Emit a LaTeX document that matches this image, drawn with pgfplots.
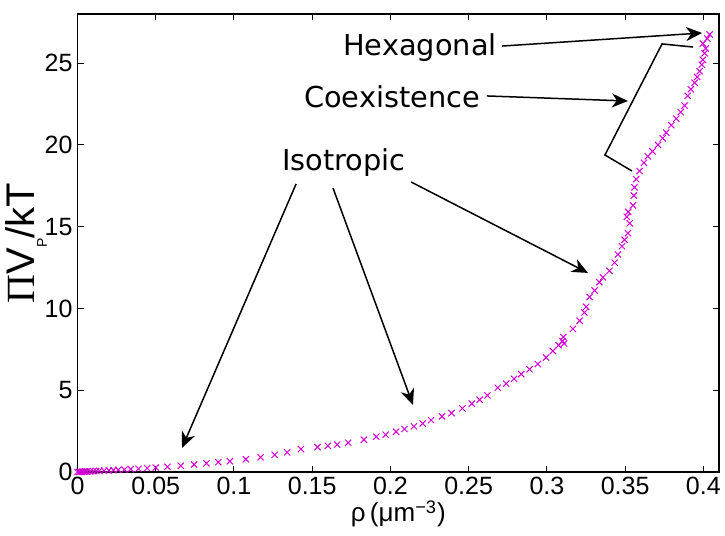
\documentclass[border=0pt]{standalone}
\usepackage{fontspec}
\setmainfont{Liberation Sans}
\newfontfamily\dejavu{DejaVu Sans}
\newfontfamily\serifgr{Liberation Serif}
\usepackage{pgfplots}
\pgfplotsset{compat=1.18}
\usetikzlibrary{arrows.meta,calc}
\definecolor{mag}{RGB}{210,0,210}
\begin{document}
\begin{tikzpicture}
\begin{axis}[
  scale only axis=true,
  width=320.75pt, height=229pt,
  xmin=0, xmax=0.41, ymin=0, ymax=28,
  xtick={0,0.05,0.1,0.15,0.2,0.25,0.3,0.35,0.4},
  xticklabels={0,0.05,0.1,0.15,0.2,0.25,0.3,0.35,0.4},
  ytick={0,5,10,15,20,25},
  tick align=inside, tick pos=both,
  major tick length=3pt,
  tick style={black, line width=0.5pt},
  axis line style={black, line width=0.6pt},
  /pgf/number format/assume math mode=true,
  tick label style={font=\fontsize{12.5}{12.5}\selectfont},
  xticklabel style={yshift=1pt},
  yticklabel style={xshift=1pt},
  xlabel={ρ\,(μm\textsuperscript{−3})},
  xlabel style={font=\fontsize{13}{13}\selectfont, yshift=4pt},
  ylabel={{\serifgr Π}V\raisebox{-0.3em}{\fontsize{7}{7}\selectfont P}/kT},
  ylabel style={font=\fontsize{20}{20}\selectfont, yshift=-8pt},
]
\addplot[only marks, mark=x, mark size=2.2pt, mag, mark options={line width=0.5pt}] coordinates {
(0,0) (0.001,0.005) (0.002,0.01) (0.003,0.015) (0.004,0.02) (0.005,0.025) (0.006,0.03)
(0.008,0.04) (0.010,0.05) (0.012,0.06) (0.014,0.07) (0.017,0.085) (0.020,0.10)
(0.023,0.115) (0.026,0.13) (0.030,0.15) (0.034,0.175) (0.039,0.20) (0.0445,0.235)
(0.050,0.27) (0.0575,0.32) (0.066,0.38) (0.0745,0.46) (0.0824,0.53) (0.090,0.60)
(0.0974,0.66) (0.1076,0.78) (0.117,0.9) (0.126,1.05) (0.134,1.2) (0.1428,1.40)
(0.1534,1.52) (0.160,1.60) (0.166,1.68) (0.173,1.79) (0.183,1.97) (0.191,2.16)
(0.197,2.28) (0.2036,2.46) (0.209,2.63) (0.215,2.79) (0.2206,2.97) (0.226,3.17)
(0.233,3.40) (0.239,3.60) (0.246,3.89) (0.252,4.18) (0.257,4.42) (0.262,4.68)
(0.2686,5.15) (0.274,5.40) (0.279,5.70) (0.2836,5.98) (0.2889,6.28) (0.2942,6.6)
(0.2995,7.0) (0.3038,7.4) (0.3075,7.75) (0.310,8.0) (0.3105,8.25) (0.311,7.85)
(0.3166,8.75) (0.3209,9.25) (0.324,9.75) (0.3251,10.1) (0.3273,10.7) (0.3305,11.1)
(0.3335,11.6) (0.3358,11.9) (0.340,12.3) (0.3433,12.8) (0.3454,13.3) (0.3480,13.8)
(0.3497,14.2) (0.3518,14.6) (0.3529,15.2) (0.3511,15.6) (0.3520,15.9) (0.3550,16.3)
(0.3556,16.9) (0.356,17.4) (0.3571,17.9) (0.3592,18.4) (0.3620,18.9) (0.3645,19.3)
(0.3675,19.6) (0.3710,20.0) (0.3740,20.4) (0.3763,20.75) (0.3795,21.2) (0.3827,21.6)
(0.3855,22.0) (0.388,22.4) (0.390,23.0) (0.392,23.4) (0.3944,23.8) (0.396,24.15)
(0.3976,24.5) (0.3990,24.9) (0.3997,25.2) (0.4008,25.6) (0.4015,25.9) (0.3997,26.2)
(0.4025,26.5) (0.404,26.75)
};
\begin{scope}[line width=0.75pt, -{Stealth[length=8pt,width=7pt,inset=2.5pt]}]
\draw (axis cs:0.2713,26.04) -- (axis cs:0.3992,26.84);
\draw (axis cs:0.2617,22.99) -- (axis cs:0.3518,22.68);
\draw (axis cs:0.1397,17.61) -- (axis cs:0.0668,1.47);
\draw (axis cs:0.1633,17.36) -- (axis cs:0.2144,4.10);
\draw (axis cs:0.2132,17.73) -- (axis cs:0.3263,12.17);
\end{scope}
\draw[line width=0.75pt] (axis cs:0.3934,25.98) -- (axis cs:0.3736,26.17) -- (axis cs:0.3371,19.38) -- (axis cs:0.3544,18.40);
\node[font=\dejavu\fontsize{14.4}{14.4}\selectfont] at (axis cs:0.2189,25.92) {Hexagonal};
\node[font=\dejavu\fontsize{14.4}{14.4}\selectfont] at (axis cs:0.2010,22.93) {Coexistence};
\node[font=\dejavu\fontsize{14.4}{14.4}\selectfont] at (axis cs:0.1703,18.89) {Isotropic};
\end{axis}
\pgfresetboundingbox
\path ($(current axis.south west)+(-38.75pt,-31.5pt)$) rectangle ($(current axis.north east)+(3pt,7pt)$);
\end{tikzpicture}
\end{document}
